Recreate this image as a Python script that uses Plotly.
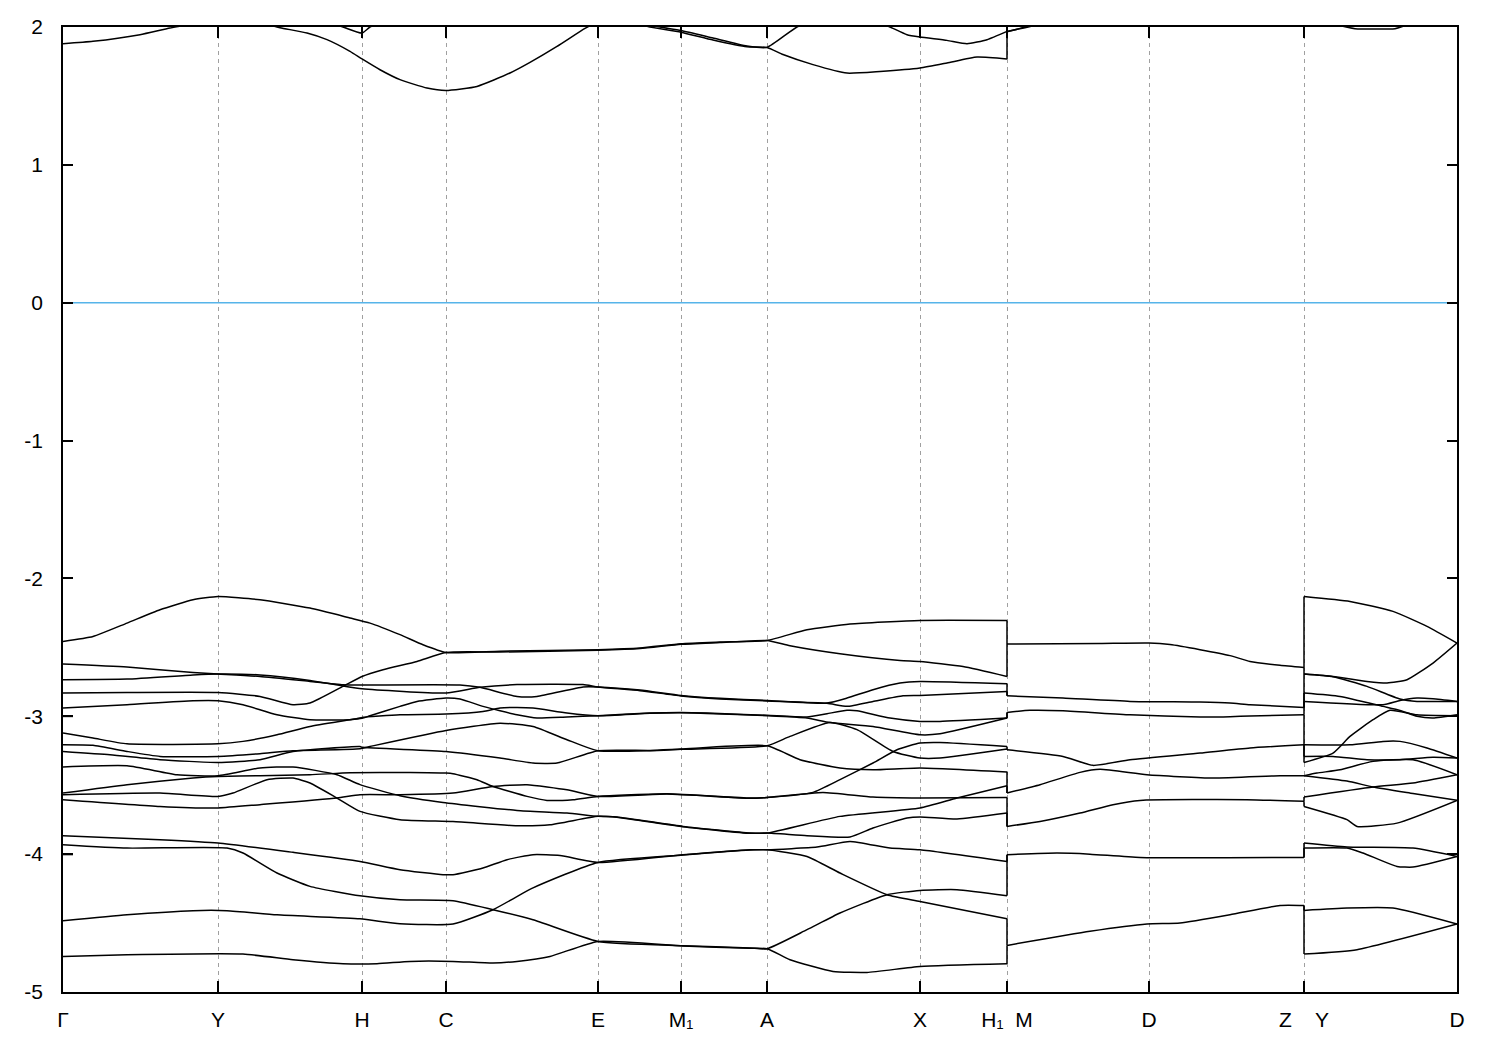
import plotly.graph_objects as go

# ---------------- k-path (high-symmetry points) ----------------
k_ticks = [0.000, 0.155, 0.299, 0.383, 0.535, 0.618, 0.704, 0.857, 0.944, 1.086, 1.241, 1.394]
tick_labels = ['Γ', 'Y', 'H', 'C', 'E', 'M\u2081', 'A', 'X', 'H\u2081\u00a0\u00a0M', 'D',
               'Z\u00a0\u00a0\u00a0\u00a0Y', 'D']
k_H1M = 0.944   # discontinuity H1|M
k_ZY = 1.241    # discontinuity Z|Y
k_end = 1.394
energy_ticks = [-5, -4, -3, -2, -1, 0, 1, 2]

# ---------------- segment 1 : Γ-Y-H-C-E-M1-A-X-H1 (k, E[eV]) ----------------
v_c1 = [[0, -2.457], [0.030, -2.421], [0.064, -2.324], [0.097, -2.227], [0.130, -2.155], [0.155, -2.131],
        [0.197, -2.155], [0.247, -2.215], [0.287, -2.287], [0.307, -2.324], [0.337, -2.408], [0.360, -2.481],
        [0.383, -2.537], [0.437, -2.528], [0.535, -2.517], [0.577, -2.505], [0.618, -2.474], [0.657, -2.462],
        [0.704, -2.450], [0.744, -2.372], [0.787, -2.331], [0.857, -2.305], [0.944, -2.305]]
v_c2 = [[0, -2.831], [0.064, -2.827], [0.155, -2.827], [0.197, -2.856], [0.230, -2.916], [0.247, -2.904],
        [0.280, -2.783], [0.299, -2.711], [0.320, -2.662], [0.354, -2.602], [0.383, -2.537], [0.437, -2.534],
        [0.535, -2.521], [0.577, -2.509], [0.618, -2.478], [0.657, -2.465], [0.704, -2.450], [0.727, -2.488],
        [0.777, -2.546], [0.837, -2.595], [0.857, -2.602], [0.900, -2.639], [0.944, -2.711]]
v_a = [[0, -2.621], [0.064, -2.643], [0.130, -2.682], [0.155, -2.693], [0.197, -2.711], [0.247, -2.747],
       [0.280, -2.771], [0.299, -2.773], [0.397, -2.773], [0.417, -2.790], [0.454, -2.856], [0.474, -2.856],
       [0.520, -2.787], [0.535, -2.787], [0.577, -2.810], [0.618, -2.849], [0.657, -2.870], [0.704, -2.885],
       [0.764, -2.904], [0.784, -2.868], [0.810, -2.807], [0.837, -2.759], [0.857, -2.747], [0.944, -2.764]]
v_b = [[0, -2.735], [0.064, -2.730], [0.130, -2.700], [0.155, -2.693], [0.197, -2.700], [0.247, -2.740],
       [0.280, -2.780], [0.299, -2.800], [0.383, -2.831], [0.417, -2.790], [0.454, -2.770], [0.520, -2.770],
       [0.535, -2.787], [0.577, -2.814], [0.618, -2.853], [0.657, -2.874], [0.704, -2.889], [0.764, -2.906],
       [0.784, -2.928], [0.810, -2.892], [0.840, -2.851], [0.857, -2.849], [0.944, -2.820]]
v_l5 = [[0, -2.940], [0.064, -2.916], [0.130, -2.887], [0.155, -2.887], [0.180, -2.916], [0.214, -2.989],
        [0.247, -3.025], [0.287, -3.025], [0.299, -3.015], [0.307, -2.996], [0.337, -2.928], [0.354, -2.892],
        [0.383, -2.868], [0.397, -2.875], [0.420, -2.928], [0.437, -2.960], [0.454, -2.989], [0.474, -3.013],
        [0.504, -3.005], [0.535, -2.996], [0.587, -2.976], [0.618, -2.972], [0.644, -2.976], [0.704, -2.993],
        [0.744, -3.005], [0.764, -2.981], [0.784, -2.957], [0.794, -2.960], [0.827, -3.013], [0.857, -3.037],
        [0.877, -3.037], [0.944, -3.013]]
v_l6 = [[0, -3.121], [0.030, -3.158], [0.064, -3.200], [0.155, -3.200], [0.180, -3.182], [0.214, -3.134],
        [0.247, -3.074], [0.297, -3.013], [0.299, -3.008], [0.337, -2.989], [0.383, -2.984], [0.420, -2.965],
        [0.437, -2.940], [0.454, -2.936], [0.470, -2.940], [0.504, -2.976], [0.535, -2.996], [0.587, -2.978],
        [0.618, -2.975], [0.644, -2.979], [0.704, -2.996], [0.744, -3.013], [0.767, -3.045], [0.810, -3.074],
        [0.857, -3.134], [0.877, -3.127], [0.944, -3.013]]
v_l7 = [[0, -3.206], [0.030, -3.210], [0.064, -3.255], [0.097, -3.291], [0.155, -3.291], [0.197, -3.271],
        [0.230, -3.250], [0.297, -3.235], [0.307, -3.219], [0.383, -3.103], [0.437, -3.050], [0.470, -3.074],
        [0.504, -3.170], [0.535, -3.250], [0.587, -3.250], [0.618, -3.240], [0.704, -3.214], [0.727, -3.146],
        [0.767, -3.045], [0.794, -3.097], [0.830, -3.255], [0.857, -3.303], [0.877, -3.303], [0.944, -3.237]]
v_l8 = [[0, -3.255], [0.047, -3.279], [0.097, -3.315], [0.155, -3.335], [0.197, -3.315], [0.230, -3.255],
        [0.297, -3.219], [0.299, -3.225], [0.383, -3.255], [0.437, -3.303], [0.470, -3.339], [0.494, -3.339],
        [0.535, -3.250], [0.587, -3.248], [0.618, -3.238], [0.704, -3.214], [0.737, -3.315], [0.777, -3.375],
        [0.810, -3.388], [0.857, -3.375], [0.944, -3.404]]
v_alpha = [[0, -3.368], [0.064, -3.359], [0.114, -3.424], [0.155, -3.431], [0.197, -3.375], [0.230, -3.368],
           [0.274, -3.424], [0.297, -3.496], [0.337, -3.576], [0.380, -3.625], [0.454, -3.683], [0.504, -3.702],
           [0.535, -3.726], [0.554, -3.730], [0.620, -3.799], [0.687, -3.847], [0.704, -3.847], [0.777, -3.726],
           [0.857, -3.665], [0.894, -3.593], [0.944, -3.504]]
v_beta = [[0, -3.557], [0.064, -3.496], [0.130, -3.448], [0.155, -3.437], [0.197, -3.431], [0.247, -3.424],
          [0.287, -3.410], [0.347, -3.407], [0.383, -3.412], [0.390, -3.417], [0.414, -3.460], [0.430, -3.509],
          [0.464, -3.581], [0.484, -3.610], [0.510, -3.605], [0.535, -3.581], [0.604, -3.562], [0.687, -3.593],
          [0.704, -3.589], [0.750, -3.552], [0.777, -3.460], [0.810, -3.339], [0.834, -3.243], [0.857, -3.194],
          [0.877, -3.190], [0.944, -3.219]]
v_gamma = [[0, -3.569], [0.097, -3.557], [0.155, -3.581], [0.170, -3.557], [0.204, -3.460], [0.230, -3.448],
           [0.247, -3.484], [0.274, -3.593], [0.297, -3.690], [0.337, -3.750], [0.390, -3.763], [0.454, -3.794],
           [0.487, -3.787], [0.535, -3.726], [0.554, -3.732], [0.620, -3.801], [0.687, -3.849], [0.704, -3.847],
           [0.744, -3.866], [0.787, -3.875], [0.810, -3.810], [0.844, -3.738], [0.857, -3.730], [0.894, -3.745],
           [0.944, -3.702]]
v_delta = [[0, -3.605], [0.097, -3.654], [0.155, -3.665], [0.197, -3.641], [0.274, -3.593], [0.297, -3.569],
           [0.337, -3.569], [0.390, -3.557], [0.430, -3.509], [0.464, -3.496], [0.504, -3.533], [0.535, -3.581],
           [0.604, -3.564], [0.687, -3.595], [0.704, -3.589], [0.760, -3.552], [0.810, -3.586], [0.857, -3.593],
           [0.944, -3.589]]
v_eps = [[0, -3.866], [0.097, -3.895], [0.155, -3.919], [0.230, -3.987], [0.297, -4.053], [0.337, -4.113],
         [0.380, -4.149], [0.390, -4.149], [0.420, -4.100], [0.444, -4.040], [0.470, -4.004], [0.497, -4.010],
         [0.535, -4.060], [0.620, -4.004], [0.687, -3.968], [0.704, -3.968], [0.754, -3.949], [0.787, -3.908],
         [0.827, -3.956], [0.857, -3.968], [0.944, -4.053]]
v_eta = [[0, -4.483], [0.064, -4.440], [0.130, -4.410], [0.164, -4.410], [0.214, -4.440], [0.297, -4.469],
         [0.337, -4.505], [0.390, -4.507], [0.430, -4.403], [0.470, -4.245], [0.535, -4.060], [0.620, -4.006],
         [0.687, -3.970], [0.704, -3.968], [0.744, -4.017], [0.777, -4.137], [0.824, -4.294], [0.857, -4.343],
         [0.944, -4.469]]
v_zeta = [[0, -3.931], [0.064, -3.956], [0.164, -3.956], [0.180, -3.992], [0.214, -4.137], [0.247, -4.234],
          [0.297, -4.302], [0.337, -4.331], [0.390, -4.338], [0.430, -4.403], [0.470, -4.476], [0.535, -4.633],
          [0.620, -4.664], [0.687, -4.681], [0.704, -4.686], [0.744, -4.548], [0.777, -4.427], [0.824, -4.294],
          [0.857, -4.263], [0.894, -4.258], [0.944, -4.302]]
v_theta = [[0, -4.742], [0.064, -4.730], [0.180, -4.725], [0.230, -4.766], [0.280, -4.795], [0.314, -4.795],
           [0.347, -4.778], [0.390, -4.778], [0.430, -4.790], [0.454, -4.778], [0.487, -4.742], [0.535, -4.633],
           [0.620, -4.666], [0.687, -4.683], [0.704, -4.686], [0.727, -4.766], [0.770, -4.851], [0.804, -4.858],
           [0.857, -4.815], [0.944, -4.795]]
stub_1 = [[0, -3.001], [0.010, -3.001]]
stub_2 = [[0, -4.003], [0.010, -4.003]]

c_k1 = [[0, 1.879], [0.030, 1.896], [0.077, 1.944], [0.107, 1.992], [0.137, 2.030], [0.155, 2.040],
        [0.197, 2.030], [0.217, 1.995], [0.244, 1.956], [0.264, 1.908], [0.287, 1.823], [0.299, 1.768],
        [0.317, 1.690], [0.337, 1.618], [0.364, 1.557], [0.383, 1.540], [0.414, 1.569], [0.447, 1.666],
        [0.467, 1.743], [0.494, 1.859], [0.522, 1.990], [0.535, 2.040]]
c_k2 = [[0.267, 2.030], [0.280, 2.000], [0.299, 1.956], [0.307, 2.000], [0.320, 2.030]]
c_k3 = [[0.577, 2.030], [0.597, 2.000], [0.618, 1.975], [0.650, 1.920], [0.684, 1.862], [0.704, 1.852],
        [0.734, 2.000], [0.757, 2.050]]
c_k4 = [[0.577, 2.020], [0.587, 2.000], [0.618, 1.962], [0.650, 1.905], [0.684, 1.856], [0.704, 1.852],
        [0.720, 1.800], [0.750, 1.727], [0.784, 1.666], [0.817, 1.678], [0.857, 1.703], [0.884, 1.739],
        [0.914, 1.782], [0.944, 1.768]]
c_k5 = [[0.817, 2.030], [0.827, 2.000], [0.844, 1.944], [0.857, 1.927], [0.884, 1.903], [0.904, 1.879],
        [0.924, 1.908], [0.944, 1.968]]

# ---------------- segment 2 : M-D-Z (each valence band doubly degenerate) ----------------
m_1 = [[0.944, -2.476], [1.037, -2.472], [1.086, -2.469], [1.107, -2.480], [1.137, -2.517], [1.167, -2.560],
       [1.187, -2.602], [1.217, -2.630], [1.241, -2.646]]
m_2 = [[0.944, -2.851], [1.000, -2.868], [1.067, -2.892], [1.137, -2.897], [1.167, -2.904], [1.187, -2.916],
       [1.241, -2.936]]
m_3 = [[0.944, -2.972], [0.967, -2.957], [1.000, -2.960], [1.067, -2.989], [1.137, -3.005], [1.167, -3.003],
       [1.187, -2.998], [1.241, -2.989]]
m_4 = [[0.944, -3.243], [1.000, -3.291], [1.030, -3.356], [1.067, -3.315], [1.137, -3.267], [1.187, -3.230],
       [1.241, -3.207]]
m_5 = [[0.944, -3.557], [0.977, -3.496], [1.017, -3.407], [1.037, -3.385], [1.084, -3.424], [1.150, -3.448],
       [1.217, -3.431], [1.241, -3.431]]
m_6 = [[0.944, -3.799], [0.977, -3.763], [1.017, -3.702], [1.050, -3.641], [1.077, -3.610], [1.184, -3.605],
       [1.241, -3.617]]
m_7 = [[0.944, -4.004], [0.994, -3.992], [1.027, -4.000], [1.077, -4.024], [1.241, -4.024]]
m_8 = [[0.944, -4.662], [1.027, -4.560], [1.084, -4.507], [1.117, -4.500], [1.167, -4.440], [1.217, -4.372],
       [1.241, -4.372]]
m_degeneracy = 2
mc_1 = [[0.944, 1.968], [0.962, 1.995], [0.977, 2.020]]
mc_2 = [[0.944, 1.965], [0.957, 1.990], [0.972, 2.020]]

# ---------------- segment 3 : Y-D ----------------
y_1 = [[1.241, -2.131], [1.287, -2.167], [1.330, -2.239], [1.364, -2.348], [1.394, -2.469]]
y_2 = [[1.241, -2.693], [1.270, -2.711], [1.304, -2.747], [1.324, -2.759], [1.344, -2.735], [1.370, -2.614],
       [1.394, -2.469]]
y_3 = [[1.241, -2.693], [1.270, -2.713], [1.304, -2.783], [1.337, -2.875], [1.354, -2.892], [1.394, -2.892]]
y_4 = [[1.241, -2.831], [1.277, -2.856], [1.320, -2.928], [1.337, -2.957], [1.354, -3.000], [1.370, -3.013],
       [1.394, -2.989]]
y_5 = [[1.241, -2.892], [1.320, -2.916], [1.337, -2.885], [1.354, -2.868], [1.370, -2.873], [1.394, -2.892]]
y_6 = [[1.241, -3.335], [1.270, -3.267], [1.287, -3.146], [1.310, -3.025], [1.327, -2.957], [1.354, -2.989],
       [1.394, -2.996]]
y_7 = [[1.241, -3.207], [1.287, -3.207], [1.320, -3.182], [1.337, -3.182], [1.364, -3.230], [1.394, -3.303]]
y_8 = [[1.241, -3.291], [1.270, -3.291], [1.304, -3.315], [1.337, -3.315], [1.370, -3.298], [1.394, -3.303]]
y_9 = [[1.241, -3.431], [1.254, -3.412], [1.277, -3.388], [1.310, -3.327], [1.350, -3.315], [1.394, -3.424]]
y_10 = [[1.241, -3.431], [1.284, -3.470], [1.310, -3.513], [1.350, -3.560], [1.394, -3.610]]
y_11 = [[1.241, -3.586], [1.310, -3.513], [1.350, -3.484], [1.394, -3.424]]
y_12 = [[1.241, -3.654], [1.284, -3.750], [1.294, -3.799], [1.334, -3.775], [1.394, -3.610]]
y_13 = [[1.241, -3.919], [1.284, -3.948], [1.350, -3.956], [1.394, -4.017]]
y_14 = [[1.241, -3.956], [1.284, -3.956], [1.300, -3.992], [1.334, -4.089], [1.350, -4.094], [1.394, -4.017]]
y_15 = [[1.241, -4.408], [1.284, -4.391], [1.330, -4.391], [1.394, -4.507]]
y_16 = [[1.241, -4.725], [1.294, -4.693], [1.394, -4.507]]
yc_1 = [[1.277, 2.010], [1.292, 1.988], [1.312, 1.985], [1.332, 1.988], [1.342, 2.010]]

# ---------------- assemble ----------------
seg1 = [(b, 1) for b in [v_c1, v_c2, v_a, v_b, v_l5, v_l6, v_l7, v_l8, v_alpha, v_beta, v_gamma, v_delta,
                         v_eps, v_eta, v_zeta, v_theta, stub_1, stub_2, c_k1, c_k2, c_k3, c_k4, c_k5]]
seg2 = [(b, m_degeneracy) for b in [m_1, m_2, m_3, m_4, m_5, m_6, m_7, m_8]] + [(mc_1, 1), (mc_2, 1)]
seg3 = [(b, 1) for b in [y_1, y_2, y_3, y_4, y_5, y_6, y_7, y_8, y_9, y_10, y_11, y_12, y_13, y_14, y_15, y_16,
                         yc_1]]


def joins(left, right, k):
    """connect the n-th band ending at k with the n-th band starting at k (energy order)"""
    ends = sorted(e for b, d in left for e in [b[-1][1]] * d if abs(b[-1][0] - k) < 1e-9)
    starts = sorted(e for b, d in right for e in [b[0][1]] * d if abs(b[0][0] - k) < 1e-9)
    return [[[k, e1], [k, e2]] for e1, e2 in zip(ends, starts)]


def flatten(curves):
    xs, ys = [], []
    for c in curves:
        xs += [p[0] for p in c] + [None]
        ys += [p[1] for p in c] + [None]
    return xs, ys


band_x, band_y = flatten([b for b, _ in seg1 + seg2 + seg3])
jump_x, jump_y = flatten(joins(seg1, seg2, k_H1M) + joins(seg2, seg3, k_ZY))

fig = go.Figure()
fig.add_trace(go.Scatter(x=[0, k_end], y=[0, 0], mode='lines',
                         line=dict(color='#56b4e9', width=1.5), hoverinfo='skip'))
fig.add_trace(go.Scatter(x=band_x, y=band_y, mode='lines',
                         line=dict(color='black', width=1.5, shape='spline', smoothing=0.5),
                         connectgaps=False, hoverinfo='skip'))
fig.add_trace(go.Scatter(x=jump_x, y=jump_y, mode='lines', line=dict(color='black', width=1.5),
                         connectgaps=False, hoverinfo='skip'))

font = dict(family='Liberation Sans, Arial, DejaVu Sans, sans-serif', size=21, color='black')
fig.update_layout(
    width=1492, height=1042,
    margin=dict(l=55, r=43, t=19, b=58, autoexpand=False),
    paper_bgcolor='white', plot_bgcolor='white',
    showlegend=False, font=font,
    xaxis=dict(range=[0, k_end], tickmode='array', tickvals=k_ticks, ticktext=tick_labels,
               ticks='inside', ticklen=11, tickwidth=1.5, tickcolor='black',
               showline=True, linecolor='black', linewidth=1.5, mirror='ticks',
               showgrid=True, gridcolor='#a0a0a0', gridwidth=1, griddash='4px,4px',
               zeroline=False, tickfont=font, ticklabelstandoff=8),
    yaxis=dict(range=[-5, 2], tickmode='array', tickvals=energy_ticks,
               ticktext=[str(v) for v in energy_ticks],
               ticks='inside', ticklen=10, tickwidth=1.5, tickcolor='black',
               showline=True, linecolor='black', linewidth=1.5, mirror='ticks',
               showgrid=False, zeroline=False, tickfont=font, ticklabelstandoff=14),
)

fig.write_html("out.html")
